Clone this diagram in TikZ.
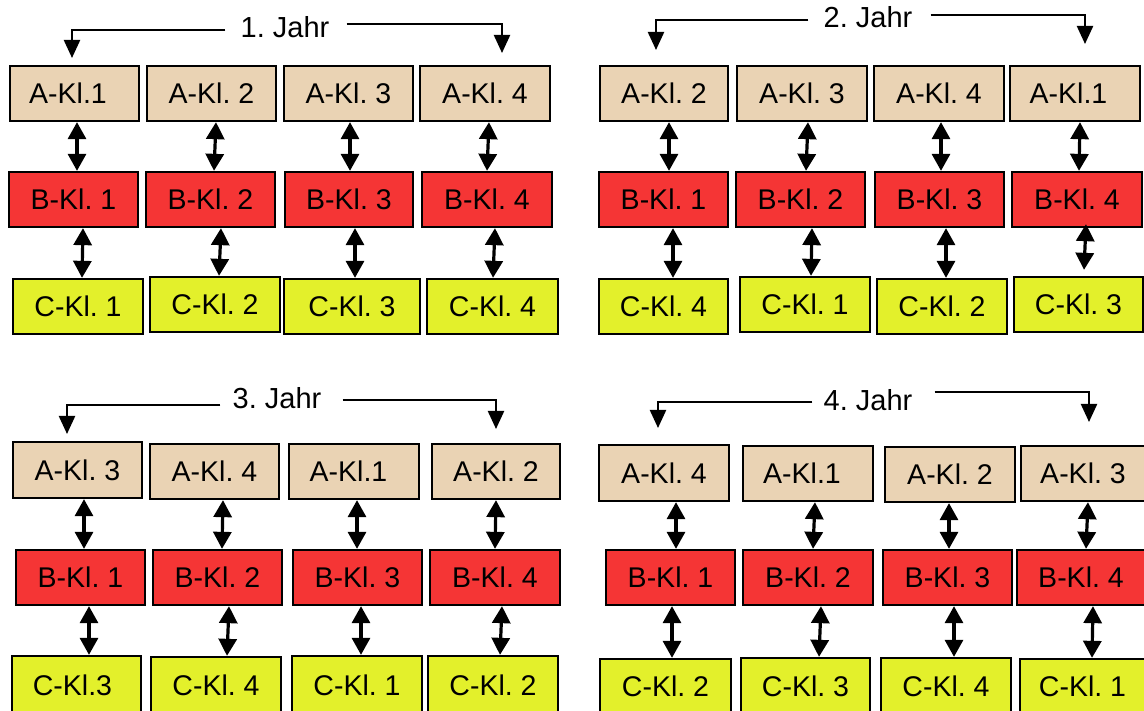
\documentclass[tikz,border=0pt]{standalone}
\usepackage{fontspec}
\setmainfont{Liberation Sans}
\usetikzlibrary{arrows.meta}
\definecolor{acol}{HTML}{EAD3B4}
\definecolor{bcol}{HTML}{F53535}
\definecolor{ccol}{HTML}{E3F02B}
\tikzset{
  klbox/.style={draw=black, line width=2.3pt, inner sep=0pt, minimum width=129pt, minimum height=55pt,
    font=\fontsize{28.5}{32}\selectfont, text=black},
  abox/.style={klbox, fill=acol},
  bbox/.style={klbox, fill=bcol},
  cbox/.style={klbox, fill=ccol},
  dbl/.style={line width=3.2pt, {Triangle[width=18pt,length=17pt]}-{Triangle[width=18pt,length=17pt]}},
  tarrow/.style={line width=2.2pt, -{Triangle[width=16pt,length=18pt]}},
  jahr/.style={inner sep=0pt, font=\fontsize{29}{32}\selectfont}
}
\begin{document}
\frenchspacing
\begin{tikzpicture}[x=1pt,y=-1pt]
\useasboundingbox (0,0) rectangle (1144,711);
\fill[white] (0,0) rectangle (1144,711);

% ---------------- 1. Jahr ----------------
\node[jahr] (t1) at (285,27) {1. Jahr};
\coordinate (t1l) at (72,58);
\coordinate (t1r) at (502,53);
\draw[tarrow] ([xshift=-15pt,yshift=-3pt]t1.west) -| (t1l);
\draw[tarrow] ([xshift=17pt,yshift=3pt]t1.east) -| (t1r);
\node[abox] (p1a1) at (74.5,93.5) {A-Kl.1\hspace*{13pt}};
\node[abox] (p1a2) at (211.5,93.5) {A-Kl. 2};
\node[abox] (p1a3) at (348.5,93.5) {A-Kl. 3};
\node[abox,minimum width=130pt] (p1a4) at (485,93.5) {A-Kl. 4};
\node[bbox] (p1b1) at (73.5,199.5) {B-Kl. 1};
\node[bbox] (p1b2) at (210.5,199.5) {B-Kl. 2};
\node[bbox,minimum width=128pt] (p1b3) at (349,199.5) {B-Kl. 3};
\node[bbox,minimum width=130pt] (p1b4) at (487,199.5) {B-Kl. 4};
\node[cbox,minimum width=130pt] (p1c1) at (78,306.5) {C-Kl. 1};
\node[cbox,minimum width=130pt] (p1c2) at (215,304.5) {C-Kl. 2};
\node[cbox,minimum width=136pt] (p1c3) at (352,306.5) {C-Kl. 3};
\node[cbox,minimum width=131pt] (p1c4) at (492.5,306.5) {C-Kl. 4};
\draw[dbl] ([xshift=2.5pt]p1a1.south) -- ([xshift=3.5pt]p1b1.north);
\draw[dbl] ([xshift=4.5pt]p1a2.south) -- ([xshift=3.5pt]p1b2.north);
\draw[dbl] ([xshift=1.5pt]p1a3.south) -- ([xshift=1pt]p1b3.north);
\draw[dbl] ([xshift=4pt]p1a4.south) -- ([xshift=0pt]p1b4.north);
\draw[dbl] ([xshift=9.5pt]p1b1.south) -- ([xshift=4pt]p1c1.north);
\draw[dbl] ([xshift=10.5pt]p1b2.south) -- ([xshift=4pt]p1c2.north);
\draw[dbl] ([xshift=6pt]p1b3.south) -- ([xshift=3pt]p1c3.north);
\draw[dbl] ([xshift=8pt]p1b4.south) -- ([xshift=0.5pt]p1c4.north);

% ---------------- 2. Jahr ----------------
\node[jahr] (t2) at (868,17) {2. Jahr};
\coordinate (t2l) at (656,50);
\coordinate (t2r) at (1085,44);
\draw[tarrow] ([xshift=-15pt,yshift=-3pt]t2.west) -| (t2l);
\draw[tarrow] ([xshift=18pt,yshift=2pt]t2.east) -| (t2r);
\node[abox,minimum width=128pt] (p2a1) at (664,93.5) {A-Kl. 2};
\node[abox,minimum width=130pt] (p2a2) at (802,93.5) {A-Kl. 3};
\node[abox,minimum width=130pt] (p2a3) at (939,93.5) {A-Kl. 4};
\node[abox,minimum width=130pt] (p2a4) at (1075,93.5) {A-Kl.1\hspace*{13pt}};
\node[bbox] (p2b1) at (663.5,199.5) {B-Kl. 1};
\node[bbox] (p2b2) at (800.5,199.5) {B-Kl. 2};
\node[bbox] (p2b3) at (939.5,199.5) {B-Kl. 3};
\node[bbox,minimum width=130pt] (p2b4) at (1077,199.5) {B-Kl. 4};
\node[cbox] (p2c1) at (663.5,306.5) {C-Kl. 4};
\node[cbox,minimum width=130pt] (p2c2) at (805,304.5) {C-Kl. 1};
\node[cbox,minimum width=130pt] (p2c3) at (942,306.5) {C-Kl. 2};
\node[cbox] (p2c4) at (1078.5,304.5) {C-Kl. 3};
\draw[dbl] ([xshift=5pt]p2a1.south) -- ([xshift=5.5pt]p2b1.north);
\draw[dbl] ([xshift=6pt]p2a2.south) -- ([xshift=5.5pt]p2b2.north);
\draw[dbl] ([xshift=2pt]p2a3.south) -- ([xshift=1.5pt]p2b3.north);
\draw[dbl] ([xshift=5pt]p2a4.south) -- ([xshift=2pt]p2b4.north);
\draw[dbl] ([xshift=9.5pt]p2b1.south) -- ([xshift=9.5pt]p2c1.north);
\draw[dbl] ([xshift=11.5pt]p2b2.south) -- ([xshift=6pt]p2c2.north);
\draw[dbl] ([xshift=6.5pt]p2b3.south) -- ([xshift=4pt]p2c3.north);
\draw[dbl] ([xshift=9pt,yshift=4pt]p2b4.south) -- ([xshift=5.5pt,yshift=6pt]p2c4.north);

% ---------------- 3. Jahr ----------------
\node[jahr] (t3) at (277,398) {3. Jahr};
\coordinate (t3l) at (67,434);
\coordinate (t3r) at (496,429);
\draw[tarrow] ([xshift=-12pt,yshift=-7pt]t3.west) -| (t3l);
\draw[tarrow] ([xshift=21pt,yshift=-2pt]t3.east) -| (t3r);
\node[abox,minimum height=56pt] (p3a1) at (77.5,470) {A-Kl. 3};
\node[abox] (p3a2) at (214.5,471.5) {A-Kl. 4};
\node[abox,minimum width=130pt] (p3a3) at (354,471.5) {A-Kl.1\hspace*{11pt}};
\node[abox,minimum width=128pt] (p3a4) at (496,471.5) {A-Kl. 2};
\node[bbox] (p3b1) at (80.5,577.5) {B-Kl. 1};
\node[bbox] (p3b2) at (217.5,577.5) {B-Kl. 2};
\node[bbox] (p3b3) at (357.5,577.5) {B-Kl. 3};
\node[bbox,minimum width=130pt] (p3b4) at (495,577.5) {B-Kl. 4};
\node[cbox,minimum height=58pt] (p3c1) at (76.5,685) {C-Kl.3\hspace*{8pt}};
\node[cbox,minimum width=130pt,minimum height=57pt] (p3c2) at (216,685.5) {C-Kl. 4};
\node[cbox,minimum width=130pt,minimum height=58pt] (p3c3) at (357,685) {C-Kl. 1};
\node[cbox,minimum width=130pt,minimum height=58pt] (p3c4) at (493,685) {C-Kl. 2};
\draw[dbl] ([xshift=6.5pt]p3a1.south) -- ([xshift=3.5pt]p3b1.north);
\draw[dbl] ([xshift=8.5pt]p3a2.south) -- ([xshift=4.5pt]p3b2.north);
\draw[dbl] ([xshift=3pt]p3a3.south) -- ([xshift=-0.5pt]p3b3.north);
\draw[dbl] ([xshift=0pt]p3a4.south) -- ([xshift=0pt]p3b4.north);
\draw[dbl] ([xshift=8.5pt]p3b1.south) -- ([xshift=12.5pt]p3c1.north);
\draw[dbl] ([xshift=11.5pt]p3b2.south) -- ([xshift=11pt]p3c2.north);
\draw[dbl] ([xshift=3.5pt]p3b3.south) -- ([xshift=4pt]p3c3.north);
\draw[dbl] ([xshift=7pt]p3b4.south) -- ([xshift=7pt]p3c4.north);

% ---------------- 4. Jahr ----------------
\node[jahr] (t4) at (868,400) {4. Jahr};
\coordinate (t4l) at (658,428);
\coordinate (t4r) at (1089,422);
\draw[tarrow] ([xshift=-11pt,yshift=-2pt]t4.west) -| (t4l);
\draw[tarrow] ([xshift=22pt,yshift=8pt]t4.east) -| (t4r);
\node[abox,minimum width=130pt,minimum height=56pt] (p4a1) at (664,473) {A-Kl. 4};
\node[abox,minimum width=130pt] (p4a2) at (808,473.5) {A-Kl.1\hspace*{12pt}};
\node[abox,minimum width=130pt] (p4a3) at (950,474.5) {A-Kl. 2};
\node[abox,minimum width=124pt] (p4a4) at (1083,473.5) {A-Kl. 3};
\node[bbox] (p4b1) at (670.5,577.5) {B-Kl. 1};
\node[bbox,minimum width=130pt] (p4b2) at (808,577.5) {B-Kl. 2};
\node[bbox] (p4b3) at (947.5,577.5) {B-Kl. 3};
\node[bbox,minimum width=128pt] (p4b4) at (1081,577.5) {B-Kl. 4};
\node[cbox,minimum width=131pt] (p4c1) at (665.5,686.5) {C-Kl. 2};
\node[cbox,minimum height=56pt] (p4c2) at (805.5,686) {C-Kl. 3};
\node[cbox,minimum width=130pt,minimum height=56pt] (p4c3) at (946,686) {C-Kl. 4};
\node[cbox,minimum width=125pt] (p4c4) at (1082.5,686.5) {C-Kl. 1};
\draw[dbl] ([xshift=12pt]p4a1.south) -- ([xshift=5.5pt]p4b1.north);
\draw[dbl] ([xshift=7pt]p4a2.south) -- ([xshift=5pt]p4b2.north);
\draw[dbl] ([xshift=-1pt]p4a3.south) -- ([xshift=1.5pt]p4b3.north);
\draw[dbl] ([xshift=5pt]p4a4.south) -- ([xshift=5pt]p4b4.north);
\draw[dbl] ([xshift=1.5pt]p4b1.south) -- ([xshift=6.5pt]p4c1.north);
\draw[dbl] ([xshift=13pt]p4b2.south) -- ([xshift=13.5pt]p4c2.north);
\draw[dbl] ([xshift=6.5pt]p4b3.south) -- ([xshift=8pt]p4c3.north);
\draw[dbl] ([xshift=12pt]p4b4.south) -- ([xshift=9.5pt]p4c4.north);
\end{tikzpicture}
\end{document}
